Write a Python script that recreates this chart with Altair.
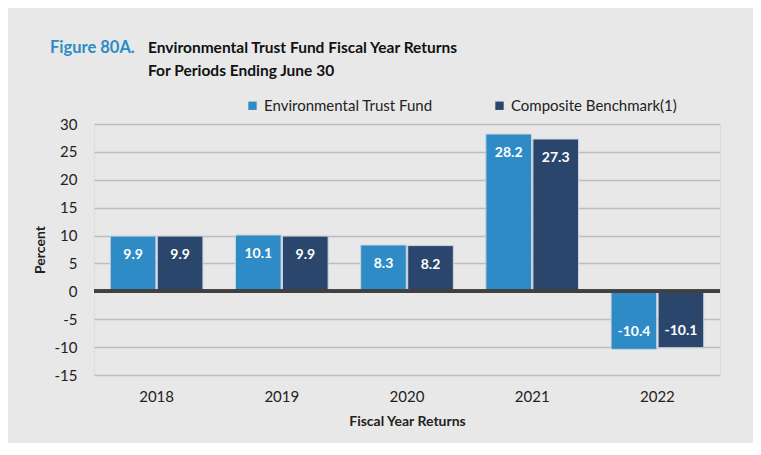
import altair as alt
import pandas as pd

years = ["2018", "2019", "2020", "2021", "2022"]
series = ["Environmental Trust Fund", "Composite Benchmark(1)"]
etf_values = [9.9, 10.1, 8.3, 28.2, -10.4]
bench_values = [9.9, 9.9, 8.2, 27.3, -10.1]
y_ticks = [-15, -10, -5, 0, 5, 10, 15, 20, 25, 30]

rows = []
for i, y in enumerate(years):
    for s, v in ((series[0], etf_values[i]), (series[1], bench_values[i])):
        rows.append({"year": y, "series": s, "value": v, "label": f"{v:.1f}"})
df = pd.DataFrame(rows)

FONT = "Lato"
BLUE = "#2e8bc5"
DARK = "#2a466d"

x_enc = alt.X("year:N", sort=years,
              scale=alt.Scale(paddingInner=0.26, paddingOuter=0.13),
              axis=alt.Axis(title="Fiscal Year Returns", labelAngle=0, ticks=False, domain=False,
                            labelPadding=14, titlePadding=10, labelFontSize=15, titleFontSize=14,
                            titleFontWeight="bold", labelColor="#222", titleColor="#222"))
xoff = alt.XOffset("series:N", sort=series, scale=alt.Scale(paddingInner=0.03))
y_enc = alt.Y("value:Q", scale=alt.Scale(domain=[-15, 30], nice=False),
              axis=alt.Axis(title="Percent", values=y_ticks, tickCount=20, ticks=False, domain=False,
                            labelOverlap=False, labelExpr="replace(datum.label, '\u2212', '-')",
                            labelPadding=17, titlePadding=7, labelFontSize=15, titleFontSize=14,
                            titleFontWeight="bold", gridColor="#bdbdbd", gridWidth=1.5,
                            labelColor="#222", titleColor="#222"))

base = alt.Chart(df)

bars = base.mark_bar(stroke="#c9d3dd", strokeWidth=1).encode(
    x=x_enc, xOffset=xoff, y=y_enc, y2=alt.datum(0),
    color=alt.Color("series:N", sort=series,
                    scale=alt.Scale(domain=series, range=[BLUE, DARK]),
                    legend=alt.Legend(title=None, orient="none", direction="horizontal",
                                      legendX=151, legendY=-26, symbolType="square",
                                      symbolSize=70, symbolStrokeWidth=0, labelFontSize=15,
                                      labelLimit=0,
                                      labelColor="#222", columnPadding=59, labelOffset=4)),
)

zero = base.mark_rule(color="#404040", strokeWidth=3).encode(y=alt.datum(0))

pos_labels = base.transform_filter("datum.value >= 0").mark_text(
    color="white", fontWeight="bold", fontSize=14, dy=19, font=FONT
).encode(x=alt.X("year:N", sort=years), xOffset=xoff, y=y_enc, text="label:N")

neg_labels = base.transform_filter("datum.value < 0").mark_text(
    color="white", fontWeight="bold", fontSize=14, dy=-17, font=FONT
).encode(x=alt.X("year:N", sort=years), xOffset=xoff, y=y_enc, text="label:N")

title_df = pd.DataFrame({"t": [0]})
TS = 15.5
t1 = alt.Chart(title_df).mark_text(align="left", baseline="middle", fontSize=16.5, fontWeight="bold",
                                   color="#2e8bc5", font=FONT).encode(
    x=alt.value(-44), y=alt.value(-76), text=alt.value("Figure 80A."))
t2 = alt.Chart(title_df).mark_text(align="left", baseline="middle", fontSize=TS, fontWeight="bold",
                                   color="#111", font=FONT).encode(
    x=alt.value(54), y=alt.value(-76), text=alt.value("Environmental Trust Fund Fiscal Year Returns"))
t3 = alt.Chart(title_df).mark_text(align="left", baseline="middle", fontSize=TS, fontWeight="bold",
                                   color="#111", font=FONT).encode(
    x=alt.value(54), y=alt.value(-53), text=alt.value("For Periods Ending June 30"))

chart = alt.layer(bars, zero, pos_labels, neg_labels, t1, t2, t3).properties(
    width=626, height=251,
    autosize=alt.AutoSizeParams(type="none"),
    padding={"left": 86, "top": 116, "right": 33, "bottom": 68},
    background="#e8e8e8",
).configure_view(stroke=None).configure(font=FONT)

chart.save("out.html", embed_options={"renderer": "svg", "actions": False})
